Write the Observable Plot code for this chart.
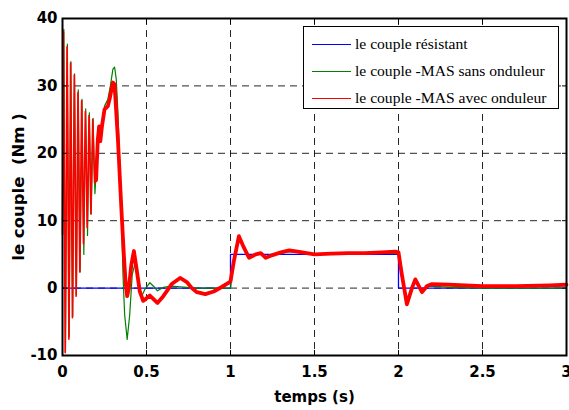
<!DOCTYPE html>
<html><head><meta charset="utf-8">
<script src="https://cdn.jsdelivr.net/npm/d3@7"></script>
<script src="https://cdn.jsdelivr.net/npm/@observablehq/plot@0.6"></script>
<style>
body{margin:0;background:#fff;}
#wrap{position:relative;width:569px;height:410px;}
#legend{position:absolute;left:303px;top:26px;width:256px;height:83px;border:1px solid #000;background:#fff;font-family:"Liberation Serif",serif;font-size:15.6px;box-sizing:border-box;}
.row{position:absolute;left:0;height:20px;display:flex;align-items:center;}
.sw{display:inline-block;width:39px;height:0;margin-left:8px;margin-right:4px;border-top:1.3px solid;}
</style></head>
<body><div id="wrap"><div id="legend"></div></div>
<script>
const xTicks = [0, 0.5, 1, 1.5, 2, 2.5, 3];
const yTicks = [-10, 0, 10, 20, 30, 40];

const seriesNames = ["le couple résistant", "le couple -MAS sans onduleur", "le couple -MAS avec onduleur"];
const seriesColors = ["#0000ff", "#008000", "#ff0000"];

// load torque (step)
const tRes = [0, 1, 1, 2, 2, 3];
const vRes = [0, 0, 5, 5, 0, 0];

// motor torque, without inverter
const tSans = [0, 0.008, 0.018, 0.029, 0.04, 0.05, 0.061, 0.072, 0.083, 0.094, 0.105, 0.116, 0.127, 0.138, 0.149, 0.16, 0.171, 0.182, 0.193, 0.2,
  0.21, 0.22, 0.235, 0.25, 0.27, 0.285, 0.3, 0.31, 0.32, 0.33, 0.34, 0.35, 0.36, 0.37, 0.385, 0.4, 0.415, 0.435, 0.45, 0.47, 0.49, 0.52, 0.545, 0.565, 0.6, 0.65, 0.7, 0.8, 0.9, 1.0,
  1.0, 1.02, 1.05, 1.08, 1.11, 1.15, 1.18, 1.21, 1.25, 1.3, 1.35, 1.4, 1.5, 1.6, 1.7, 1.8, 1.9, 2.0,
  2.02, 2.05, 2.08, 2.1, 2.14, 2.17, 2.2, 2.3, 2.5, 2.7, 2.9, 3.0];
const vSans = [10, 38.4, -9.4, 36.2, -7.2, 33.6, -4.2, 31.8, -1.0, 29.4, 2.4, 28.0, 5.0, 26.6, 7.8, 26.0, 11.0, 25.2, 14.0, 17,
  22, 23.5, 24.5, 27, 28, 30, 32.5, 32.8, 31, 26, 19, 12, 2, -4, -7.6, -4, 2, 4.0, 2, -1.3, -0.2, 0.8, 0.2, -0.4, 0.1, 0.3, 0.2, 0, 0, 0,
  0, 4, 7.5, 6, 4.6, 5.0, 5.2, 4.6, 4.9, 5.2, 5.4, 5.3, 5.0, 5.1, 5.1, 5.1, 5.2, 5.1,
  2, -2.2, 0, 1.2, -0.5, 0.2, 0.3, 0.1, 0, 0, 0, 0];

// motor torque, with inverter
const tAvec = [0, 0.006, 0.016, 0.027, 0.038, 0.048, 0.059, 0.07, 0.081, 0.092, 0.103, 0.114, 0.125, 0.136, 0.147, 0.158, 0.169, 0.18, 0.191, 0.2,
  0.21, 0.218, 0.225, 0.235, 0.25, 0.27, 0.28, 0.3, 0.31, 0.33, 0.35, 0.365, 0.375, 0.385, 0.395, 0.41, 0.425, 0.44, 0.46, 0.48, 0.5, 0.52, 0.54, 0.565, 0.6, 0.65, 0.7, 0.74, 0.77, 0.8, 0.85, 0.9, 0.95, 0.99, 1.0,
  1.02, 1.05, 1.08, 1.11, 1.15, 1.18, 1.21, 1.25, 1.3, 1.35, 1.4, 1.5, 1.6, 1.7, 1.8, 1.9, 1.98, 2.0,
  2.02, 2.05, 2.08, 2.1, 2.14, 2.17, 2.2, 2.3, 2.5, 2.7, 2.9, 3.0];
const vAvec = [8, 38.0, -9.6, 35.8, -7.6, 33.4, -4.4, 31.6, -1.2, 29.0, 2.4, 27.8, 6.6, 26.2, 9.0, 25.6, 11.0, 25.0, 15.6, 16,
  22, 24, 21.8, 24, 26.5, 27, 28, 30.5, 30.2, 22, 12, 5, 1, -1.2, 0, 3.5, 5.5, 3, -0.5, -1.9, -1.5, -1.1, -1.6, -2.2, -1.2, 0.6, 1.5, 0.9, 0, -0.6, -0.9, -0.5, 0.2, 0.8, 1.0,
  4, 7.7, 6, 4.5, 5.0, 5.2, 4.5, 4.9, 5.3, 5.6, 5.4, 5.0, 5.1, 5.2, 5.2, 5.3, 5.4, 5.3,
  2, -2.4, 0, 1.3, -0.6, 0.3, 0.6, 0.5, 0.3, 0.3, 0.4, 0.5];

const res = tRes.map((t, i) => ({t, v: vRes[i]}));
const sans = tSans.map((t, i) => ({t, v: vSans[i]}));
const avec = tAvec.map((t, i) => ({t, v: vAvec[i]}));
const avecStart = avec.filter(d => d.t <= 0.21);
const avecRest = avec.filter(d => d.t >= 0.2);

const chart = Plot.plot({
  width: 569, height: 410,
  marginLeft: 62, marginRight: 3, marginTop: 18, marginBottom: 55,
  style: {fontFamily: "DejaVu Sans", fontSize: "15px", fontWeight: "bold", background: "#fff", color: "#000"},
  x: {domain: [0, 3]},
  y: {domain: [-10, 40]},
  marks: [
    Plot.gridX(xTicks, {stroke: "#000", strokeOpacity: 0.85, strokeDasharray: "7,5"}),
    Plot.gridY(yTicks, {stroke: "#000", strokeOpacity: 0.85, strokeDasharray: "7,5"}),
    Plot.line(res, {x: "t", y: "v", stroke: seriesColors[0], strokeWidth: 1.3}),
    Plot.line(sans, {x: "t", y: "v", stroke: seriesColors[1], strokeWidth: 1.2}),
    Plot.line(avecStart, {x: "t", y: "v", stroke: seriesColors[2], strokeWidth: 1.6}),
    Plot.line(avecRest, {x: "t", y: "v", stroke: seriesColors[2], strokeWidth: 3.8}),
    Plot.frame({stroke: "#000", strokeWidth: 2}),
    Plot.axisX(xTicks, {tickSize: -5, tickPadding: 16, tickFormat: d => String(d), label: "temps (s)", labelAnchor: "center", labelArrow: "none", labelOffset: 46, fontSize: 15}),
    Plot.axisX(xTicks, {anchor: "top", tickSize: -5, tickFormat: () => "", label: null}),
    Plot.axisY(yTicks, {tickSize: -5, tickPadding: 10, tickFormat: d => String(d), label: null}),
    Plot.axisY(yTicks, {tickSize: 0, tickFormat: () => "", label: "le couple  (Nm )", labelAnchor: "center", labelArrow: "none", labelOffset: 50, fontSize: 16.5}),
    Plot.axisY(yTicks, {anchor: "right", tickSize: -5, tickFormat: () => "", label: null})
  ]
});
const wrap = document.getElementById("wrap");
wrap.insertBefore(chart, wrap.firstChild);

const legend = document.getElementById("legend");
seriesNames.forEach((name, i) => {
  const row = document.createElement("div");
  row.className = "row";
  row.style.top = (7 + i * 27) + "px";
  const sw = document.createElement("span");
  sw.className = "sw";
  sw.style.borderColor = seriesColors[i];
  row.appendChild(sw);
  const tx = document.createElement("span");
  tx.textContent = name;
  row.appendChild(tx);
  legend.appendChild(row);
});
</script></body></html>
